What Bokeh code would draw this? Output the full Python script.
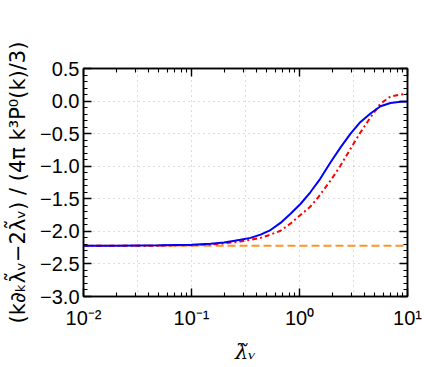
from bokeh.plotting import figure
from bokeh.models import (LogAxis, LinearAxis, SingleIntervalTicker, LogTicker,
                          FixedTicker, CustomJSTickFormatter, Range1d)
from bokeh.embed import file_html
from bokeh.resources import INLINE

# ---- data ----
blue_x = [0.01, 0.02, 0.05, 0.1, 0.15, 0.2, 0.25, 0.284, 0.352, 0.436, 0.539,
          0.667, 0.826, 1.02, 1.26, 1.56, 1.94, 2.40, 2.97, 3.67, 4.54, 5.62,
          6.96, 8.62, 10.0]
blue_y = [-2.22, -2.22, -2.215, -2.205, -2.19, -2.17, -2.145, -2.13, -2.10,
          -2.05, -1.98, -1.87, -1.73, -1.58, -1.40, -1.19, -0.94, -0.71, -0.50,
          -0.32, -0.19, -0.08, -0.03, -0.012, -0.005]

red_x = [0.01, 0.05, 0.1, 0.15, 0.2, 0.284, 0.352, 0.436, 0.539, 0.667, 0.826,
         1.02, 1.26, 1.5, 1.94, 2.40, 2.97, 3.67, 4.54, 5.62, 6.96, 8.62, 10.0]
red_y = [-2.22, -2.22, -2.212, -2.20, -2.185, -2.155, -2.13, -2.10, -2.05,
         -1.99, -1.88, -1.75, -1.62, -1.47, -1.22, -0.99, -0.73, -0.48, -0.25,
         -0.04, 0.07, 0.10, 0.11]

orange_x = [0.01, 10.0]
orange_y = [-2.22, -2.22]

x_range = (0.01, 10.0)
y_range = (-3.0, 0.5)
x_grid_ticks = [10 ** -1.5, 0.1, 10 ** -0.5, 1.0, 10 ** 0.5]

x_label = "λ̃ᵥ"
y_label = "(k∂ₖλ̃ᵥ−2λ̃ᵥ) / (4π k³P⁰(k)/3)"

FONT = "Liberation Sans"

p = figure(frame_width=324, frame_height=228, x_axis_type="log",
           x_range=Range1d(*x_range), y_range=Range1d(*y_range),
           output_backend="svg", toolbar_location=None,
           min_border_left=83, min_border_right=17, min_border_top=68,
           min_border_bottom=71)
p.background_fill_color = "white"
p.border_fill_color = "white"
p.outline_line_color = "black"
p.outline_line_width = 1.5

# lines
p.line(orange_x, orange_y, line_color="#ff9326", line_width=2, line_dash="8 4")
p.line(red_x, red_y, line_color="#ff0000", line_width=2, line_dash="5 3 2 3")
p.line(blue_x, blue_y, line_color="#0000ff", line_width=2)

xfmt = CustomJSTickFormatter(code="""
const sup = {'-':'⁻','0':'⁰','1':'¹','2':'²','3':'³','4':'⁴','5':'⁵','6':'⁶','7':'⁷','8':'⁸','9':'⁹'};
const e = Math.round(Math.log10(tick)).toString();
let s = '';
for (const c of e) s += sup[c];
return '10' + s;
""")
yfmt = CustomJSTickFormatter(code="""
let s = tick.toFixed(1);
if (s === '-0.0') s = '0.0';
return s.replace('-', '\u2212');
""")
blank = CustomJSTickFormatter(code="return '';")

def style_axis(ax):
    ax.axis_line_color = "black"
    ax.axis_line_width = 1.5
    ax.major_tick_in = 8
    ax.major_tick_out = 0
    ax.minor_tick_in = 4
    ax.minor_tick_out = 0
    ax.major_tick_line_color = "black"
    ax.minor_tick_line_color = "black"
    ax.major_tick_line_width = 1.4
    ax.minor_tick_line_width = 1.1
    ax.major_label_text_font = FONT
    ax.major_label_text_font_size = "20px"
    ax.major_label_text_color = "black"

xax = p.xaxis[0]
xax.ticker = LogTicker(num_minor_ticks=10)
xax.formatter = xfmt
style_axis(xax)
xax.major_label_standoff = 10
xax.axis_label = x_label
xax.axis_label_text_font = "DejaVu Serif"
xax.axis_label_text_font_style = "italic"
xax.axis_label_text_font_size = "21px"
xax.axis_label_standoff = 8
xax.axis_label_text_color = "black"

yax = p.yaxis[0]
yax.ticker = SingleIntervalTicker(interval=0.5, num_minor_ticks=5)
yax.formatter = yfmt
style_axis(yax)
yax.major_label_standoff = 4
yax.axis_label = y_label
yax.axis_label_text_font = "DejaVu Sans"
yax.axis_label_text_font_style = "normal"
yax.axis_label_text_font_size = "21px"
yax.axis_label_standoff = 7
yax.axis_label_text_color = "black"

top = LogAxis(ticker=LogTicker(num_minor_ticks=10), formatter=blank)
style_axis(top)
top.major_label_standoff = 0
p.add_layout(top, "above")

right = LinearAxis(ticker=SingleIntervalTicker(interval=0.5, num_minor_ticks=5),
                   formatter=blank)
style_axis(right)
right.major_label_standoff = 0
p.add_layout(right, "right")

# grids: dotted light gray
p.xgrid.ticker = FixedTicker(ticks=x_grid_ticks)
p.xgrid.grid_line_color = "#bbbbbb"
p.xgrid.grid_line_dash = "1 4"
p.xgrid.grid_line_width = 1
p.ygrid.ticker = SingleIntervalTicker(interval=0.5)
p.ygrid.grid_line_color = "#bbbbbb"
p.ygrid.grid_line_dash = "1 4"
p.ygrid.grid_line_width = 1

open("out.html", "w").write(file_html(p, INLINE))
